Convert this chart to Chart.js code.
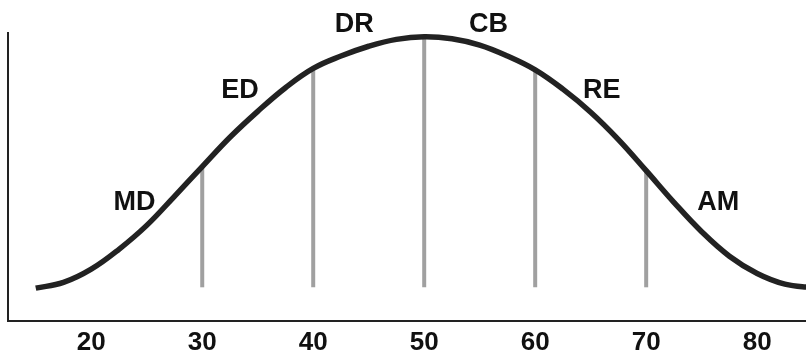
<!DOCTYPE html>
<html>
<head>
<meta charset="utf-8">
<script src="https://cdn.jsdelivr.net/npm/chart.js@4/dist/chart.umd.min.js"></script>
<style>
  html, body { margin: 0; padding: 0; background: #fff; }
  #wrap { width: 806px; height: 355px; position: relative; }
</style>
</head>
<body>
<div id="wrap"><canvas id="curva"></canvas></div>
<script>
// bell curve read along the x axis
const curveX = [15, 17.5, 20, 22.5, 25, 27.5, 30, 32.5, 35, 37.5, 40, 42.5, 45, 47.5, 50,
                52.5, 55, 57.5, 60, 62.5, 65, 67.5, 70, 72.5, 75, 77.5, 80, 82.5, 85];
const curveY = [11.4, 13.4, 18.0, 24.9, 33.2, 43.3, 53.6, 63.8, 72.8, 81.0, 87.7, 92.0, 95.4, 97.8, 98.7,
                98.0, 95.8, 92.0, 87.2, 80.5, 72.5, 63.0, 52.2, 41.2, 31.0, 22.5, 16.5, 12.8, 11.6];

// grey drop lines under the curve
const markerX = [30, 40, 50, 60, 70];
const markerFloor = 11.7;

const xTicks = [20, 30, 40, 50, 60, 70, 80];

// group names along the curve
const labelNames = ['MD', 'ED', 'DR', 'CB', 'RE', 'AM'];
const labelX = [23.9, 33.4, 43.7, 55.8, 66.0, 76.5];
const labelY = [41.1, 79.9, 102.8, 103.1, 79.9, 41.1];

const FONT = '"Liberation Sans", Arial, sans-serif';

const curveData = curveX.map((x, i) => ({ x: x, y: curveY[i] }));

const markerSets = markerX.map(x => ({
    data: [{ x: x, y: markerFloor }, { x: x, y: curveY[curveX.indexOf(x)] }],
    borderColor: '#a0a0a0',
    borderWidth: 4,
    borderCapStyle: 'butt',
    pointRadius: 0,
    order: 2
}));

// names drawn next to the curve
const curveLabels = {
    id: 'curveLabels',
    afterDatasetsDraw(chart) {
        const { ctx, scales: { x, y } } = chart;
        ctx.save();
        ctx.font = 'bold 27px ' + FONT;
        ctx.fillStyle = '#111';
        ctx.textAlign = 'center';
        ctx.textBaseline = 'middle';
        labelNames.forEach((name, i) => {
            ctx.fillText(name, x.getPixelForValue(labelX[i]), y.getPixelForValue(labelY[i]));
        });
        ctx.restore();
    }
};

new Chart(document.getElementById('curva'), {
    type: 'line',
    data: {
        datasets: [{
            data: curveData,
            borderColor: '#222',
            borderWidth: 5.5,
            tension: 0.4,
            pointRadius: 0,
            order: 1
        }, ...markerSets]
    },
    options: {
        responsive: true,
        maintainAspectRatio: false,
        animation: false,
        layout: { padding: { left: 8, top: 33, right: 0, bottom: -10 } },
        plugins: { legend: { display: false }, tooltip: { enabled: false } },
        scales: {
            x: {
                type: 'linear',
                min: 12.5,
                max: 84.4,
                afterBuildTicks: scale => { scale.ticks = xTicks.map(v => ({ value: v })); },
                grid: { display: false, drawTicks: false },
                border: { display: true, color: '#222', width: 2 },
                ticks: {
                    padding: 9,
                    color: '#111',
                    font: { family: FONT, size: 26, weight: 'bold', lineHeight: 1 },
                    maxRotation: 0
                }
            },
            y: {
                min: 0,
                max: 100,
                grid: { display: false, drawTicks: false },
                border: { display: true, color: '#222', width: 2 },
                ticks: { display: false }
            }
        }
    },
    plugins: [curveLabels]
});
</script>
</body>
</html>
